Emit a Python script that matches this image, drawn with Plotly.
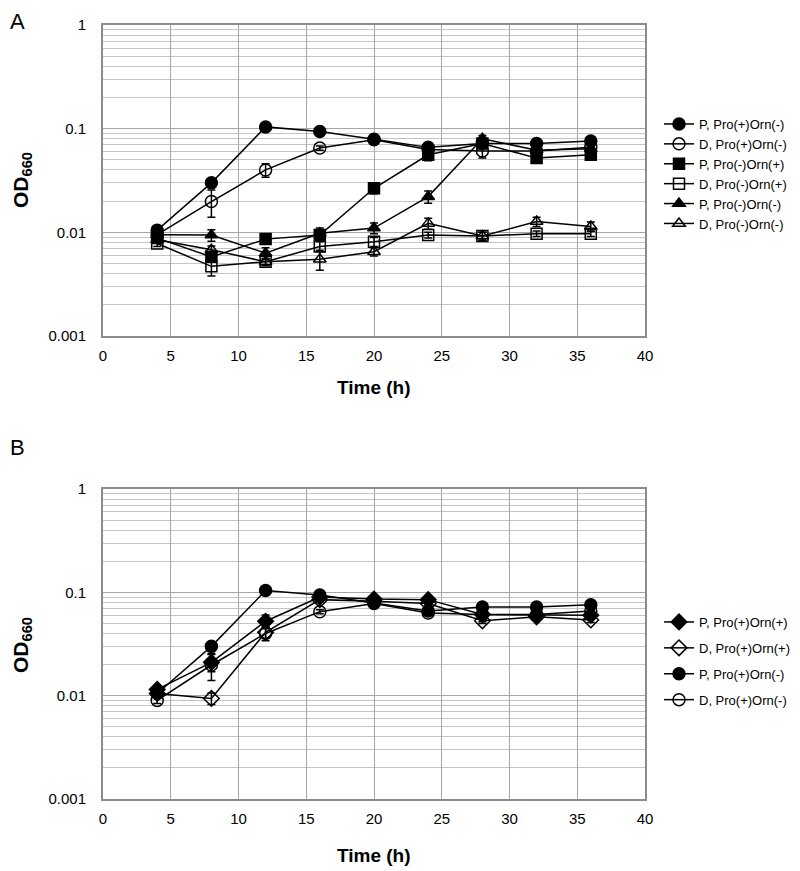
import plotly.graph_objects as go

# ---------------- data ----------------
time_h = [4, 8, 12, 16, 20, 24, 28, 32, 36]

# Panel A
a_p_pro_p_orn_m = [0.0105, 0.030, 0.104, 0.094, 0.079, 0.066, 0.072, 0.072, 0.076]
a_p_pro_p_orn_m_err = [0.0008, 0.002, 0.004, 0.003, 0.003, 0.003, 0.004, 0.003, 0.003]
a_d_pro_p_orn_m = [0.0095, 0.0198, 0.040, 0.065, 0.078, 0.063, 0.061, 0.061, 0.066]
a_d_pro_p_orn_m_err = [0.0006, 0.0058, 0.006, 0.003, 0.003, 0.003, 0.009, 0.003, 0.003]
a_p_pro_m_orn_p = [0.0088, 0.0058, 0.0086, 0.0094, 0.0266, 0.056, 0.072, 0.052, 0.056]
a_p_pro_m_orn_p_err = [0.0008, 0.0006, 0.0004, 0.0012, 0.003, 0.007, 0.005, 0.003, 0.003]
a_d_pro_m_orn_p = [0.0078, 0.0047, 0.0052, 0.0073, 0.0081, 0.0094, 0.0092, 0.0097, 0.0097]
a_d_pro_m_orn_p_err = [0.0005, 0.0009, 0.0004, 0.0008, 0.0008, 0.0006, 0.0008, 0.0006, 0.0006]
a_p_pro_m_orn_m = [0.0095, 0.0094, 0.0063, 0.0098, 0.011, 0.0221, 0.080, 0.062, 0.064]
a_p_pro_m_orn_m_err = [0.0006, 0.0012, 0.0008, 0.0012, 0.0013, 0.003, 0.006, 0.003, 0.003]
a_d_pro_m_orn_m = [0.0085, 0.0068, 0.0052, 0.0055, 0.0065, 0.0122, 0.0092, 0.0127, 0.0114]
a_d_pro_m_orn_m_err = [0.0005, 0.0006, 0.0004, 0.0012, 0.0006, 0.0015, 0.0008, 0.0013, 0.0012]

# Panel B
b_p_pro_p_orn_p = [0.0115, 0.021, 0.0525, 0.090, 0.086, 0.085, 0.061, 0.060, 0.060]
b_p_pro_p_orn_p_err = [0.0008, 0.004, 0.008, 0.004, 0.004, 0.004, 0.003, 0.003, 0.003]
b_d_pro_p_orn_p = [0.0105, 0.0094, 0.041, 0.085, 0.082, 0.078, 0.053, 0.058, 0.054]
b_d_pro_p_orn_p_err = [0.0006, 0.0012, 0.005, 0.004, 0.004, 0.004, 0.003, 0.003, 0.003]
b_p_pro_p_orn_m = a_p_pro_p_orn_m
b_p_pro_p_orn_m_err = a_p_pro_p_orn_m_err
b_d_pro_p_orn_m = [0.0090, 0.0198, 0.040, 0.065, 0.078, 0.063, 0.061, 0.061, 0.066]
b_d_pro_p_orn_m_err = a_d_pro_p_orn_m_err

x_ticks = [0, 5, 10, 15, 20, 25, 30, 35, 40]
y_ticks = [0.001, 0.01, 0.1, 1]
y_tick_text = ["0.001", "0.01", "0.1", "1"]

# ---------------- figure ----------------
W, H = 800, 871
OFF = 8  # page body margin
FONT = "Liberation Sans, Arial, sans-serif"

def px(x):
    return (x - OFF) / W

def py(y):
    return 1 - (y - OFF) / H

fig = go.Figure()

def add(name, y, err, symbol, filled, xa, ya, legend, size=11):
    fig.add_trace(go.Scatter(
        x=time_h, y=y, name=name, mode="lines+markers",
        xaxis=xa, yaxis=ya, legend=legend, legendgroup=name,
        line=dict(color="black", width=1.5),
        marker=dict(symbol=symbol if filled else symbol + "-open",
                    size=size, color="black",
                    line=dict(color="black", width=1.5)),
        error_y=dict(type="data", array=err, visible=True,
                     color="black", thickness=1.5, width=4),
    ))

add("P, Pro(+)Orn(-)", a_p_pro_p_orn_m, a_p_pro_p_orn_m_err, "circle", True, "x", "y", "legend", 12)
add("D, Pro(+)Orn(-)", a_d_pro_p_orn_m, a_d_pro_p_orn_m_err, "circle", False, "x", "y", "legend", 12)
add("P, Pro(-)Orn(+)", a_p_pro_m_orn_p, a_p_pro_m_orn_p_err, "square", True, "x", "y", "legend", 11)
add("D, Pro(-)Orn(+)", a_d_pro_m_orn_p, a_d_pro_m_orn_p_err, "square", False, "x", "y", "legend", 11)
add("P, Pro(-)Orn(-)", a_p_pro_m_orn_m, a_p_pro_m_orn_m_err, "triangle-up", True, "x", "y", "legend", 11)
add("D, Pro(-)Orn(-)", a_d_pro_m_orn_m, a_d_pro_m_orn_m_err, "triangle-up", False, "x", "y", "legend", 11)

add("P, Pro(+)Orn(+)", b_p_pro_p_orn_p, b_p_pro_p_orn_p_err, "diamond", True, "x2", "y2", "legend2", 12)
add("D, Pro(+)Orn(+)", b_d_pro_p_orn_p, b_d_pro_p_orn_p_err, "diamond", False, "x2", "y2", "legend2", 12)
add("P, Pro(+)Orn(-) ", b_p_pro_p_orn_m, b_p_pro_p_orn_m_err, "circle", True, "x2", "y2", "legend2", 12)
add("D, Pro(+)Orn(-) ", b_d_pro_p_orn_m, b_d_pro_p_orn_m_err, "circle", False, "x2", "y2", "legend2", 12)

x_dom = [px(103), px(645)]
ya_dom = [py(336), py(25)]
yb_dom = [py(799), py(489)]

GRID = "#a6a6a6"
MINOR = "#c4c4c4"
AXIS = "#8c8c8c"

def xaxis(anchor):
    return dict(domain=x_dom, anchor=anchor, range=[0, 40], automargin=False,
                tickvals=x_ticks, showgrid=True, gridcolor=GRID, gridwidth=1.3,
                showline=True, linecolor=AXIS, linewidth=2, mirror=True,
                zeroline=False, ticks="", ticklabelstandoff=5,
                tickfont=dict(family=FONT, size=15, color="black"))

def yaxis(anchor, dom):
    return dict(domain=dom, anchor=anchor, type="log", range=[-3, 0], automargin=False,
                tickvals=y_ticks, ticktext=y_tick_text,
                showgrid=True, gridcolor=GRID, gridwidth=1.3,
                minor=dict(showgrid=True, gridcolor=MINOR, gridwidth=1.3, dtick="D1"),
                showline=True, linecolor=AXIS, linewidth=2, mirror=True,
                zeroline=False, ticks="", ticklabelstandoff=12,
                tickfont=dict(family=FONT, size=15, color="black"))

fig.update_layout(
    width=W, height=H,
    margin=dict(l=0, r=0, t=0, b=0, autoexpand=False),
    paper_bgcolor="white", plot_bgcolor="white",
    font=dict(family=FONT, color="black"),
    xaxis=xaxis("y"), yaxis=yaxis("x", ya_dom),
    xaxis2=xaxis("y2"), yaxis2=yaxis("x2", yb_dom),
    legend=dict(x=px(659), y=py(109), xanchor="left", yanchor="top",
                font=dict(family=FONT, size=13, color="black"),
                bgcolor="rgba(0,0,0,0)", itemwidth=30, tracegroupgap=0),
    legend2=dict(x=px(659), y=py(607), xanchor="left", yanchor="top",
                 font=dict(family=FONT, size=13, color="black"),
                 bgcolor="rgba(0,0,0,0)", itemwidth=30, tracegroupgap=6),
    showlegend=True,
)

ann = [
    dict(text="A", x=px(8), y=py(7), xanchor="left", yanchor="top", font=dict(size=22)),
    dict(text="B", x=px(8), y=py(448), xanchor="left", yanchor="middle", font=dict(size=22)),
    dict(text="<b>Time (h)</b>", x=px(374), y=py(388), xanchor="center", yanchor="middle", font=dict(size=19)),
    dict(text="<b>Time (h)</b>", x=px(374), y=py(855), xanchor="center", yanchor="middle", font=dict(size=19)),
    dict(text="<b>OD<sub>660</sub></b>", x=px(22), y=py(180), xanchor="center", yanchor="middle", textangle=-90, font=dict(size=21)),
    dict(text="<b>OD<sub>660</sub></b>", x=px(22), y=py(645), xanchor="center", yanchor="middle", textangle=-90, font=dict(size=21)),
]
for a in ann:
    a.update(xref="paper", yref="paper", showarrow=False)
    a["font"].update(family=FONT, color="black")
fig.update_layout(annotations=ann)

fig.write_html("out.html")
